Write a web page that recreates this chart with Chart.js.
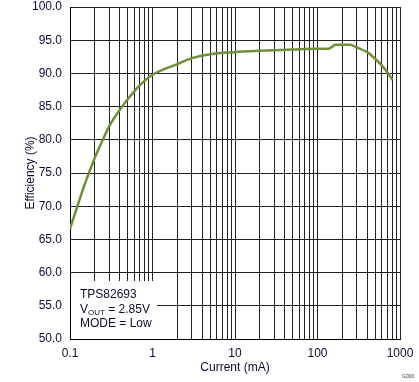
<!DOCTYPE html>
<html>
<head>
<meta charset="utf-8">
<script src="https://cdn.jsdelivr.net/npm/chart.js@4.4.0/dist/chart.umd.min.js"></script>
<style>
  html, body { margin: 0; padding: 0; background: #fff; }
  #wrap { width: 419px; height: 382px; position: relative; }
</style>
</head>
<body>
<div id="wrap"><canvas id="eff"></canvas></div>
<script>
const currentMA = [0.1, 0.12, 0.15, 0.2, 0.25, 0.3, 0.4, 0.5, 0.7, 1, 2, 3, 5, 10, 20, 30, 50, 100, 135, 150, 163, 200, 248, 300, 400, 500, 600, 700, 815];
const efficiency = [66.6, 69.6, 73.2, 77.3, 80.0, 82.1, 84.5, 86.1, 88.2, 89.8, 91.4, 92.3, 92.9, 93.2, 93.4, 93.5, 93.6, 93.7, 93.7, 94.0, 94.3, 94.3, 94.3, 93.9, 93.2, 92.2, 91.2, 90.2, 89.0];
const xMajorTicks = [0.1, 1, 10, 100, 1000];
const noteLines = ['TPS82693', 'V|OUT| = 2.85V', 'MODE = Low'];

const textColor = '#0b0b33';
const gridColor = '#222';
const font = "Arial, 'Liberation Sans', sans-serif";

const logGrid = [];
xMajorTicks.slice(0, -1).forEach(d => {
  for (let k = 1; k < 10; k++) logGrid.push(Number((d * k).toPrecision(6)));
});
logGrid.push(xMajorTicks[xMajorTicks.length - 1]);

// white box with the test conditions, lower left of the plot
const notePlugin = {
  id: 'note',
  afterDraw(chart) {
    const { ctx, chartArea } = chart;
    ctx.save();
    ctx.fillStyle = '#fff';
    ctx.fillRect(chartArea.left + 1, 281, 86, chartArea.bottom - 281);
    ctx.fillStyle = textColor;
    ctx.textBaseline = 'alphabetic';
    let y = 298;
    noteLines.forEach(line => {
      let x = 80;
      line.split('|').forEach((part, i) => {
        if (!part) return;
        ctx.font = (i % 2 ? '8px ' : '12px ') + font;
        ctx.fillText(part, x, i % 2 ? y + 2 : y);
        x += ctx.measureText(part).width;
      });
      y += 14.5;
    });
    ctx.font = '5px ' + font;
    ctx.fillStyle = '#333';
    ctx.fillText('G000', 402, 378);
    ctx.restore();
  },
};

new Chart(document.getElementById('eff'), {
  type: 'line',
  data: {
    datasets: [{
      data: currentMA.map((x, i) => ({ x, y: efficiency[i] })),
      borderColor: '#6f8f3a',
      borderWidth: 2.5,
      pointRadius: 0,
      cubicInterpolationMode: 'monotone',
      fill: false,
    }],
  },
  options: {
    responsive: true,
    maintainAspectRatio: false,
    animation: false,
    layout: { padding: { left: 0, top: 7, right: 19, bottom: 0 } },
    plugins: { legend: { display: false }, tooltip: { enabled: false } },
    scales: {
      x: {
        type: 'logarithmic',
        min: 0.1,
        max: 1000,
        afterBuildTicks: (scale) => { scale.ticks = logGrid.map(value => ({ value })); },
        afterFit: (scale) => { scale.height = 43; scale.paddingLeft = 0; scale.paddingRight = 0; },
        border: { color: '#000', width: 1 },
        grid: { color: gridColor, drawTicks: false },
        ticks: {
          autoSkip: false,
          maxRotation: 0,
          padding: 7,
          color: textColor,
          font: { family: font, size: 12 },
          callback: (v) => (xMajorTicks.includes(v) ? String(v) : ''),
        },
        title: {
          display: true,
          text: 'Current (mA)',
          color: textColor,
          font: { family: font, size: 12 },
          padding: { top: 0, bottom: 7 },
        },
      },
      y: {
        min: 50,
        max: 100,
        afterFit: (scale) => { scale.width = 70; scale.paddingTop = 0; scale.paddingBottom = 0; },
        border: { color: '#000', width: 1 },
        grid: { color: gridColor, drawTicks: false },
        ticks: {
          stepSize: 5,
          padding: 8,
          color: textColor,
          font: { family: font, size: 12 },
          callback: (v) => v.toFixed(1),
        },
        title: {
          display: true,
          text: 'Efficiency (%)',
          color: textColor,
          font: { family: font, size: 12 },
          padding: { top: 23, bottom: 0 },
        },
      },
    },
  },
  plugins: [notePlugin],
});
</script>
</body>
</html>
